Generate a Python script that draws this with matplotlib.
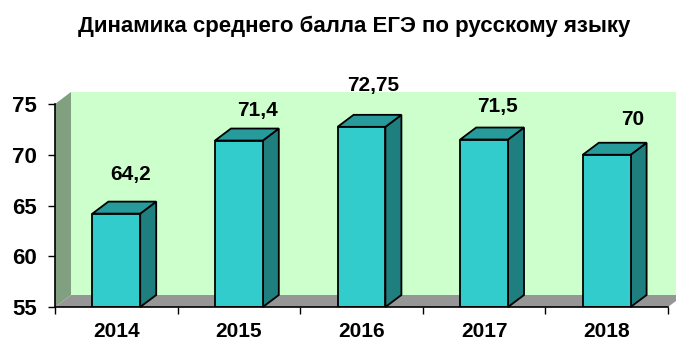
import matplotlib
matplotlib.use("Agg")
import matplotlib.pyplot as plt
import matplotlib.transforms as mtransforms
from matplotlib.patches import Polygon

plt.rcParams['font.family'] = ['Liberation Sans', 'DejaVu Sans']
plt.rcParams['font.weight'] = 'bold'

years = ['2014', '2015', '2016', '2017', '2018']
scores = [64.2, 71.4, 72.75, 71.5, 70]
score_labels = ['64,2', '71,4', '72,75', '71,5', '70']
# сдвиг подписей от верха столбца, пиксели (вправо, вверх)
label_shift = [(14, 39), (19, 30), (12, 41), (13, 33), (26, 35)]
y_ticks = [55, 60, 65, 70, 75]

W, H = 676, 340
fig = plt.figure(figsize=(W / 100, H / 100), dpi=100)
ax = fig.add_axes([55 / W, (H - 307) / H, 613 / W, 203 / H])
ax.set_xlim(-0.5, len(years) - 0.5)
ax.set_ylim(55, 75)

# глубина объёмной диаграммы
dx, dy = 16, 12
depth = ax.transData + mtransforms.ScaledTranslation(dx / 100, dy / 100, fig.dpi_scale_trans)

def pt(x, y, back=False):
    t = depth if back else ax.transData
    return t.transform((x, y))

def face(points, color, lw=0.0, ec='none', z=1):
    p = Polygon(points, closed=True, fc=color, ec=ec, lw=lw,
                transform=mtransforms.IdentityTransform(), clip_on=False, zorder=z)
    ax.add_artist(p)

x0, x1 = ax.get_xlim()
y0, y1 = ax.get_ylim()
# задняя стенка, боковая стенка, пол
face([pt(x0, y0, True), pt(x0, y1, True), pt(x1, y1, True), pt(x1, y0, True)], '#ccffcc', z=0)
face([pt(x0, y0), pt(x0, y1), pt(x0, y1, True), pt(x0, y0, True)], '#80a080', z=0.5)
face([pt(x0, y0), pt(x1, y0), pt(x1, y0, True), pt(x0, y0, True)], '#969696', z=0.5)
ax.patch.set_visible(False)

bw = 0.39
lw = 1.3
for i, v in enumerate(scores):
    l, r = i - bw / 2, i + bw / 2
    # боковая грань и верх
    face([pt(r, y0), pt(r, v), pt(r, v, True), pt(r, y0, True)], '#1f7f7f', lw, 'black', 2)
    face([pt(l, v), pt(r, v), pt(r, v, True), pt(l, v, True)], '#279b9b', lw, 'black', 2)
    ax.bar(i, v - y0, bw, bottom=y0, color='#33cccc', edgecolor='black', lw=lw, zorder=3)
    sx, sy = label_shift[i]
    ax.annotate(score_labels[i], (i, v), xytext=(sx * 0.72, sy * 0.72),
                textcoords='offset points', ha='center', va='center',
                fontsize=15, fontweight='bold', annotation_clip=False)

ax.set_yticks(y_ticks)
ax.set_yticklabels([str(t) for t in y_ticks], fontsize=16, fontweight='bold')
ax.set_xticks(range(len(years)))
ax.set_xticklabels(years, fontsize=15, fontweight='bold')
ax.set_xticks([k - 0.5 for k in range(len(years) + 1)], minor=True)
ax.tick_params(axis='x', which='major', length=0, pad=11)
ax.tick_params(axis='x', which='minor', length=5, width=1, direction='out')
ax.tick_params(axis='y', length=5, width=1, direction='out', pad=8)
for s in ['top', 'right']:
    ax.spines[s].set_visible(False)
for s in ['left', 'bottom']:
    ax.spines[s].set_linewidth(1.2)
    ax.spines[s].set_zorder(4)

fig.text(354 / W, 1 - 26 / H, 'Динамика среднего балла ЕГЭ по русскому языку',
         ha='center', va='center', fontsize=16, fontweight='bold')

fig.savefig('out.png', dpi=100)
